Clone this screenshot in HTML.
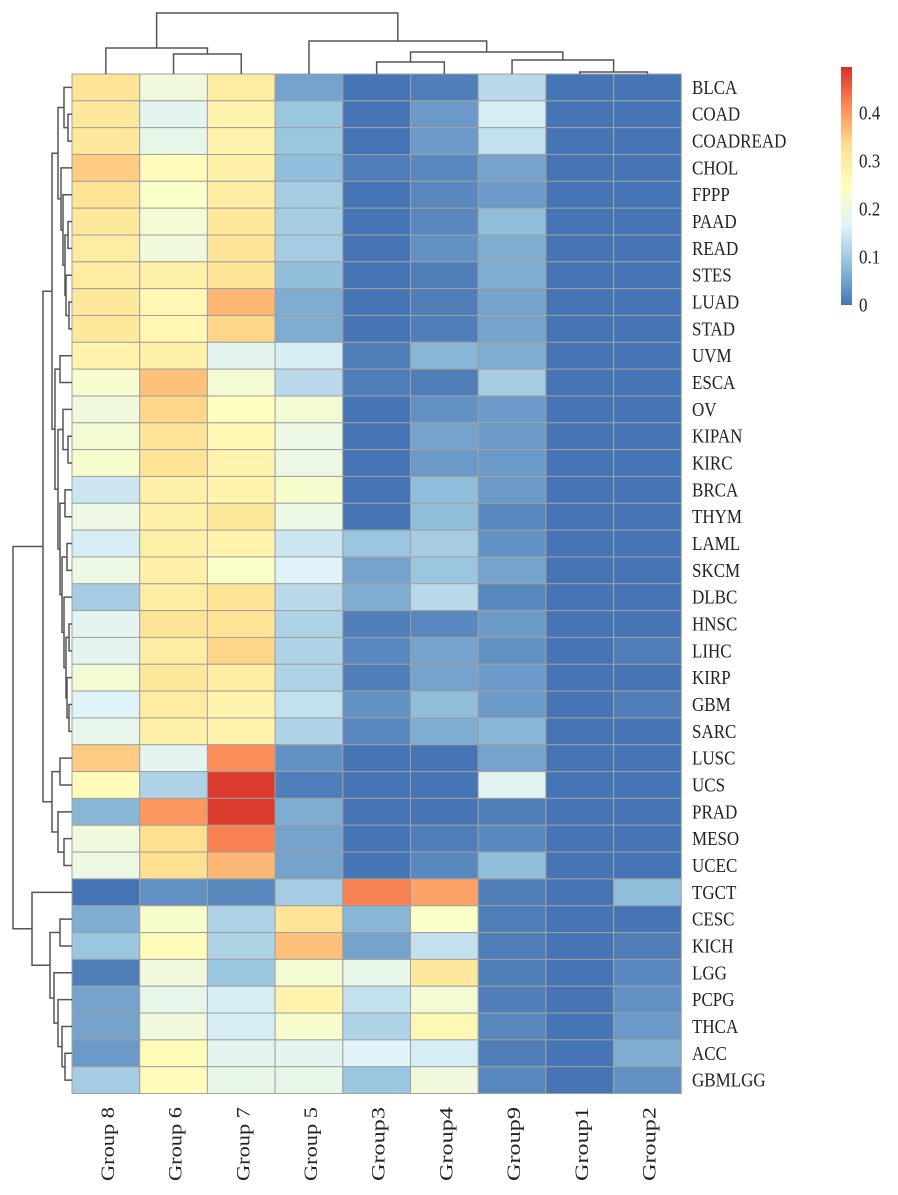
<!DOCTYPE html>
<html><head><meta charset="utf-8"><style>
body{margin:0;background:#fff;}
svg{display:block;font-family:"Liberation Serif",serif;}
</style></head><body>
<svg id="chart" width="898" height="1195" viewBox="0 0 898 1195">
<defs><linearGradient id="cb" x1="0" y1="1" x2="0" y2="0">
<stop offset="0" stop-color="#4575b4"/><stop offset="0.1667" stop-color="#91bfdb"/><stop offset="0.3333" stop-color="#e0f3f8"/><stop offset="0.5" stop-color="#ffffbf"/><stop offset="0.6667" stop-color="#fee090"/><stop offset="0.8333" stop-color="#fc8d59"/><stop offset="1" stop-color="#d73027"/></linearGradient></defs>
</svg>
<script>
const columns=["Group 8","Group 6","Group 7","Group 5","Group3","Group4","Group9","Group1","Group2"];
const rows=["BLCA","COAD","COADREAD","CHOL","FPPP","PAAD","READ","STES","LUAD","STAD","UVM","ESCA","OV","KIPAN","KIRC","BRCA","THYM","LAML","SKCM","DLBC","HNSC","LIHC","KIRP","GBM","SARC","LUSC","UCS","PRAD","MESO","UCEC","TGCT","CESC","KICH","LGG","PCPG","THCA","ACC","GBMLGG"];
const values=[
[0.31,0.2,0.29,0.05,0,0.01,0.12,0,0],
[0.3,0.17,0.27,0.09,0,0.04,0.15,0,0],
[0.3,0.18,0.27,0.09,0,0.04,0.13,0,0],
[0.34,0.25,0.28,0.08,0.01,0.02,0.05,0,0],
[0.31,0.23,0.29,0.1,0,0.02,0.04,0,0],
[0.3,0.21,0.3,0.1,0,0.02,0.08,0,0],
[0.29,0.2,0.31,0.1,0,0.03,0.06,0,0],
[0.29,0.28,0.31,0.08,0,0.01,0.06,0,0],
[0.3,0.26,0.36,0.06,0,0.01,0.05,0,0],
[0.3,0.26,0.33,0.06,0,0.01,0.05,0,0],
[0.27,0.28,0.17,0.15,0.01,0.07,0.06,0,0],
[0.22,0.35,0.21,0.12,0.01,0.01,0.1,0,0],
[0.2,0.33,0.24,0.21,0,0.03,0.04,0,0],
[0.21,0.31,0.26,0.19,0,0.05,0.04,0,0],
[0.22,0.31,0.27,0.19,0,0.04,0.04,0,0],
[0.14,0.28,0.27,0.22,0,0.08,0.04,0,0],
[0.19,0.28,0.3,0.19,0,0.08,0.02,0,0],
[0.15,0.28,0.27,0.14,0.09,0.1,0.03,0,0],
[0.19,0.28,0.23,0.16,0.05,0.09,0.05,0,0],
[0.1,0.29,0.31,0.12,0.06,0.12,0.02,0,0],
[0.17,0.31,0.31,0.11,0.01,0.02,0.04,0,0],
[0.17,0.29,0.33,0.11,0.02,0.05,0.03,0,0.01],
[0.21,0.3,0.29,0.11,0.01,0.05,0.04,0,0],
[0.16,0.29,0.27,0.13,0.03,0.08,0.04,0,0.01],
[0.18,0.28,0.27,0.11,0.02,0.06,0.07,0,0],
[0.34,0.17,0.4,0.03,0,0,0.05,0,0],
[0.25,0.11,0.47,0.01,0,0,0.17,0,0],
[0.07,0.39,0.47,0.06,0,0,0.01,0,0],
[0.2,0.32,0.41,0.05,0,0.01,0.02,0,0],
[0.19,0.32,0.36,0.05,0,0.02,0.08,0,0],
[0,0.03,0.02,0.1,0.41,0.38,0.01,0,0.08],
[0.06,0.22,0.11,0.31,0.07,0.23,0.01,0,0],
[0.09,0.25,0.11,0.35,0.05,0.13,0.01,0,0.01],
[0.01,0.2,0.09,0.21,0.18,0.3,0.01,0,0.02],
[0.05,0.18,0.15,0.27,0.13,0.21,0.01,0,0.03],
[0.05,0.2,0.15,0.22,0.11,0.26,0.02,0,0.04],
[0.04,0.25,0.17,0.17,0.16,0.15,0.01,0,0.06],
[0.1,0.25,0.18,0.18,0.09,0.2,0.02,0,0.03]];
const tickLabels=["0","0.1","0.2","0.3","0.4"];
const tickValues=[0,0.1,0.2,0.3,0.4];
const vmax=0.48;
const NS="http://www.w3.org/2000/svg";
const svg=document.getElementById('chart');
const X0=72,Y0=74,CW=67.7,RH=26.83;
const stops=["#4575b4","#91bfdb","#e0f3f8","#ffffbf","#fee090","#fc8d59","#d73027"];
function hx(h){return [1,3,5].map(i=>parseInt(h.substr(i,2),16));}
function color(v){let t=Math.max(0,Math.min(1,v/vmax))*6;let i=Math.min(5,Math.floor(t));let f=t-i;let a=hx(stops[i]),b=hx(stops[i+1]);return "rgb("+a.map((c,k)=>Math.round(c+(b[k]-c)*f)).join(",")+")";}
function el(tag,attrs){const e=document.createElementNS(NS,tag);for(const k in attrs)e.setAttribute(k,attrs[k]);svg.appendChild(e);return e;}
const xs=i=>X0+i*CW, ys=j=>Y0+j*RH;
values.forEach((r,j)=>r.forEach((v,i)=>{
 const c=el('rect',{x:xs(i),y:ys(j),width:CW,height:RH,fill:color(v),stroke:'#a0a0a0','stroke-width':1});
 
 
}));
rows.forEach((n,j)=>{const cy=ys(j)+RH/2;const t=el('text',{x:0,y:0,'font-size':17,fill:'#222',transform:`translate(692 ${cy+6.5}) scale(1 1.2)`});t.textContent=n;
 
 });
columns.forEach((n,i)=>{const cx=xs(i)+CW/2+8;const t=el('text',{x:0,y:0,'font-size':19,fill:'#222','text-anchor':'end',textLength:74,lengthAdjust:'spacingAndGlyphs',transform:`translate(${cx} 1107) rotate(-90)`});t.textContent=n;
 
 });
// colorbar
const CB0=305,CB1=67,PX=480;
const cb=el('rect',{x:841,y:CB1,width:11,height:CB0-CB1,fill:'url(#cb)'});


tickValues.forEach((v,k)=>{const y=CB0-v*PX;
 const t=el('text',{x:0,y:0,'font-size':17,fill:'#222',transform:`translate(859 ${y+6.5}) scale(1 1.2)`});t.textContent=tickLabels[k];
 
 });
// dendrograms
const colTree=[61,[26,0,[20,1,2]],[33,3,[22,[12,4,5],[14,6,[2,7,8]]]]];
function drawCol(n){if(typeof n==='number')return {x:xs(n)+CW/2,y:Y0};const a=drawCol(n[1]),b=drawCol(n[2]);const y=Y0-n[0];
 el('path',{d:`M${a.x},${a.y}V${y}H${b.x}V${b.y}`,fill:'none',stroke:'#555','stroke-width':1.5});return {x:(a.x+b.x)/2,y:y};}
drawCol(colTree);
const top10=[14,[8,0,[4,1,2]],[11,3,[9,4,[7,[4,5,6],[6,7,[3,8,9]]]]]];
const next15=[17,[12,10,11],[14,[9,12,[4,13,14]],[12,[7,15,16],[10,[5,17,18],[8,19,[6,[3,20,21],[5,22,[3,23,24]]]]]]]];
const rowTree=[59,[29,[20,top10,next15],[20,[12,25,26],[14,27,[8,28,29]]]],[40,30,[22,[12,31,32],[18,33,[14,34,[10,35,[7,36,37]]]]]]];
function drawRow(n){if(typeof n==='number')return {x:X0,y:ys(n)+RH/2};const a=drawRow(n[1]),b=drawRow(n[2]);const x=X0-n[0];
 el('path',{d:`M${a.x},${a.y}H${x}V${b.y}H${b.x}`,fill:'none',stroke:'#555','stroke-width':1.5});return {x:x,y:(a.y+b.y)/2};}
drawRow(rowTree);
</script>
</body></html>
